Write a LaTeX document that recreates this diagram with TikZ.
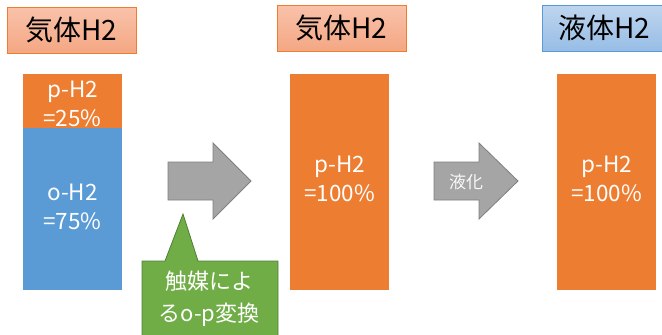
\documentclass[tikz,border=0pt]{standalone}
\usepackage{fontspec}
\setmainfont{Noto Sans CJK JP}
\definecolor{orng}{HTML}{ED7D31}
\definecolor{blu}{HTML}{5B9BD5}
\definecolor{grn}{HTML}{70AD47}
\definecolor{grnd}{HTML}{507E32}
\definecolor{gry}{HTML}{A5A5A5}
\definecolor{gryd}{HTML}{7F7F7F}
\definecolor{otop}{HTML}{F9C2AA}
\definecolor{obot}{HTML}{F4A783}
\definecolor{btop}{HTML}{BED5EF}
\definecolor{bbot}{HTML}{97BDE5}
\begin{document}
\begin{tikzpicture}[x=1pt,y=-1pt,
  titleo/.style={top color=otop,bottom color=obot},
  titleb/.style={top color=btop,bottom color=bbot},
  ttxt/.style={font=\fontsize{28}{30}\selectfont,text=black},
  btxt/.style={font=\fontsize{22.5}{29}\selectfont,text=white,align=center},
  arr/.style={draw=gryd,fill=gry,line width=0.8pt},
  ]
\useasboundingbox (0,0) rectangle (662,335);
% titles
\shade[titleo] (7,7) rectangle (136,53);
\draw[orng,line width=0.8pt] (7,7) rectangle (136,53);
\node[ttxt] (t1) at (71.5,30) {気体H2};
\shade[titleo] (277,5) rectangle (406,51);
\draw[orng,line width=0.8pt] (277,5) rectangle (406,51);
\node[ttxt] (t2) at (341.5,28) {気体H2};
\shade[titleb] (542,5) rectangle (671,51);
\draw[blu,line width=0.8pt] (542,5) rectangle (671,51);
\node[ttxt] (t3) at (604,28) {液体H2};
% left bar
\fill[orng] (23,74) rectangle (122,128);
\fill[blu] (23,128) rectangle (122,290);
\node[btxt] (p1) at (72.5,104) {p-H2\\=25\%};
\node[btxt] (o1) at (72.5,207) {o-H2\\=75\%};
% middle and right bars
\fill[orng] (290,74) rectangle (389,290);
\node[btxt] (p2) at (339.5,179) {p-H2\\=100\%};
\fill[orng] (557,74) rectangle (656,290);
\node[btxt] (p3) at (606.5,179) {p-H2\\=100\%};
% arrows
\draw[arr] (168,162) -- (213,162) -- (213,143) -- (251,181) -- (213,219) -- (213,200) -- (168,200) -- cycle;
\draw[arr] (434,162) -- (479,162) -- (479,143) -- (518,181) -- (479,219) -- (479,200) -- (434,200) -- cycle;
\node[font=\fontsize{17}{19}\selectfont,text=white!95!gray] (lq) at (466,182) {液化};
% callout
\draw[draw=grnd,fill=grn,line width=0.8pt] (142,336) -- (142,261) -- (165,261) -- (183,214) -- (198,261) -- (278,261) -- (278,336);
\node[font=\fontsize{22}{32}\selectfont,text=white,align=center] (cat) at (209,299) {触媒によ\\るo-p変換};
\end{tikzpicture}
\end{document}
